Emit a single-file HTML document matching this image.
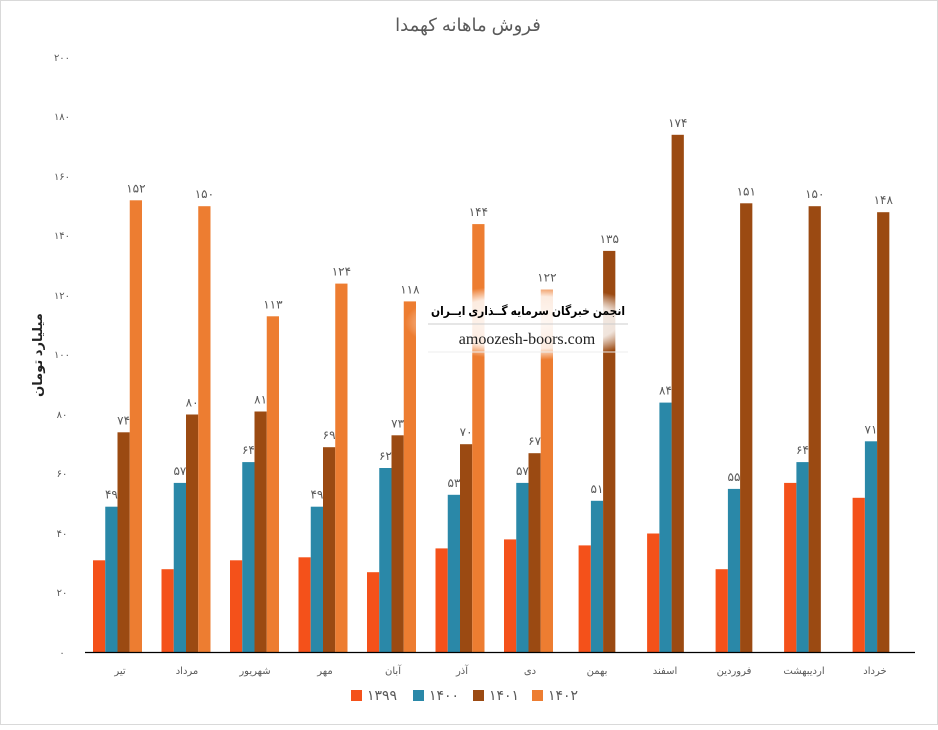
<!DOCTYPE html>
<html><head><meta charset="utf-8"><style>
body{margin:0;background:#fff;width:938px;height:725px;overflow:hidden}
svg text{font-family:"Liberation Sans","DejaVu Sans",sans-serif}
</style></head><body>
<svg width="938" height="725" viewBox="0 0 938 725" xmlns="http://www.w3.org/2000/svg">
<rect x="0" y="0" width="938" height="725" fill="#fff"/>
<rect x="0.5" y="0.5" width="937" height="724" fill="none" stroke="#d9d9d9"/>
<text x="468" y="31" text-anchor="middle" font-size="18" fill="#595959">فروش ماهانه کهمدا</text>
<g font-size="10" fill="#595959" text-anchor="middle">
<text x="62" y="656">۰</text><text x="62" y="596">۲۰</text><text x="62" y="537">۴۰</text><text x="62" y="477">۶۰</text><text x="62" y="418">۸۰</text><text x="62" y="358">۱۰۰</text><text x="62" y="299">۱۲۰</text><text x="62" y="239">۱۴۰</text><text x="62" y="180">۱۶۰</text><text x="62" y="120">۱۸۰</text><text x="62" y="61">۲۰۰</text>
</g>
<text transform="translate(42,355) rotate(-90)" text-anchor="middle" font-size="13" font-weight="bold" fill="#222">میلیارد تومان</text>
<g transform="translate(0,652.5) scale(1,-1)">
<g fill="#f4511a">
<rect x="93" y="0" width="12.25" height="92.2"/><rect x="161.5" y="0" width="12.25" height="83.3"/><rect x="230" y="0" width="12.25" height="92.2"/><rect x="298.5" y="0" width="12.25" height="95.2"/><rect x="367" y="0" width="12.25" height="80.3"/><rect x="435.5" y="0" width="12.25" height="104.1"/><rect x="504" y="0" width="12.25" height="113.1"/><rect x="578.6" y="0" width="12.25" height="107.1"/><rect x="647.1" y="0" width="12.25" height="119"/><rect x="715.6" y="0" width="12.25" height="83.3"/><rect x="784.1" y="0" width="12.25" height="169.6"/><rect x="852.6" y="0" width="12.25" height="154.7"/>
</g>
<g fill="#2a88a8">
<rect x="105.25" y="0" width="12.25" height="145.8"/><rect x="173.75" y="0" width="12.25" height="169.6"/><rect x="242.25" y="0" width="12.25" height="190.4"/><rect x="310.75" y="0" width="12.25" height="145.8"/><rect x="379.25" y="0" width="12.25" height="184.5"/><rect x="447.75" y="0" width="12.25" height="157.7"/><rect x="516.25" y="0" width="12.25" height="169.6"/><rect x="590.9" y="0" width="12.25" height="151.7"/><rect x="659.4" y="0" width="12.25" height="249.9"/><rect x="727.9" y="0" width="12.25" height="163.6"/><rect x="796.4" y="0" width="12.25" height="190.4"/><rect x="864.9" y="0" width="12.25" height="211.2"/>
</g>
<g fill="#9b4a12">
<rect x="117.5" y="0" width="12.25" height="220.2"/><rect x="186" y="0" width="12.25" height="238"/><rect x="254.5" y="0" width="12.25" height="241"/><rect x="323" y="0" width="12.25" height="205.3"/><rect x="391.5" y="0" width="12.25" height="217.2"/><rect x="460" y="0" width="12.25" height="208.3"/><rect x="528.5" y="0" width="12.25" height="199.3"/><rect x="603.1" y="0" width="12.25" height="401.6"/><rect x="671.6" y="0" width="12.25" height="517.7"/><rect x="740.1" y="0" width="12.25" height="449.2"/><rect x="808.6" y="0" width="12.25" height="446.3"/><rect x="877.1" y="0" width="12.25" height="440.3"/>
</g>
<g fill="#ed7d31">
<rect x="129.75" y="0" width="12.25" height="452.2"/><rect x="198.25" y="0" width="12.25" height="446.3"/><rect x="266.75" y="0" width="12.25" height="336.2"/><rect x="335.25" y="0" width="12.25" height="368.9"/><rect x="403.75" y="0" width="12.25" height="351.1"/><rect x="472.25" y="0" width="12.25" height="428.4"/><rect x="540.75" y="0" width="12.25" height="363"/>
</g>
</g>
<line x1="85" y1="652.5" x2="915" y2="652.5" stroke="#000" stroke-width="1.3"/>
<g font-size="12" fill="#595959" text-anchor="middle">
<text x="111.4" y="498.7">۴۹</text><text x="179.9" y="474.9">۵۷</text><text x="248.4" y="454.1">۶۴</text><text x="316.9" y="498.7">۴۹</text><text x="385.4" y="460">۶۲</text><text x="453.9" y="486.8">۵۳</text><text x="522.4" y="474.9">۵۷</text><text x="597" y="492.8">۵۱</text><text x="665.5" y="394.6">۸۴</text><text x="734" y="480.9">۵۵</text><text x="802.5" y="454.1">۶۴</text><text x="871" y="433.3">۷۱</text>
<text x="123.6" y="424.3">۷۴</text><text x="192.1" y="406.5">۸۰</text><text x="260.6" y="403.5">۸۱</text><text x="329.1" y="439.2">۶۹</text><text x="397.6" y="427.3">۷۳</text><text x="466.1" y="436.2">۷۰</text><text x="534.6" y="445.2">۶۷</text><text x="609.25" y="242.9">۱۳۵</text><text x="677.75" y="126.8">۱۷۴</text><text x="746.25" y="195.3">۱۵۱</text><text x="814.75" y="198.2">۱۵۰</text><text x="883.25" y="204.2">۱۴۸</text>
<text x="135.9" y="192.3">۱۵۲</text><text x="204.4" y="198.2">۱۵۰</text><text x="272.9" y="308.3">۱۱۳</text><text x="341.4" y="275.6">۱۲۴</text><text x="409.9" y="293.4">۱۱۸</text><text x="478.4" y="216.1">۱۴۴</text><text x="546.9" y="281.5">۱۲۲</text>
</g>
<g font-size="10" fill="#595959" text-anchor="middle">
<text x="120" y="674">تیر</text><text x="187" y="674">مرداد</text><text x="255" y="674">شهریور</text><text x="325" y="674">مهر</text><text x="393" y="674">آبان</text><text x="462" y="674">آذر</text><text x="530" y="674">دی</text><text x="597" y="674">بهمن</text><text x="665" y="674">اسفند</text><text x="734" y="674">فروردین</text><text x="804" y="674">اردیبهشت</text><text x="875" y="674">خرداد</text>
</g>
<defs><radialGradient id="wm" cx="0.5" cy="0.5" r="0.5"><stop offset="0" stop-color="#fff" stop-opacity="0.95"/><stop offset="0.7" stop-color="#fff" stop-opacity="0.85"/><stop offset="1" stop-color="#fff" stop-opacity="0"/></radialGradient></defs>
<rect x="405" y="285" width="250" height="75" fill="url(#wm)"/>
<text x="528" y="315" text-anchor="middle" font-size="12" font-weight="bold" fill="#000" textLength="194" lengthAdjust="spacingAndGlyphs" font-family="'DejaVu Sans',sans-serif">انجمن خبرگان سرمایه گــذاری ایــران</text>
<line x1="428" y1="324" x2="628" y2="324" stroke="#ccc"/>
<text x="527" y="344" text-anchor="middle" font-size="16" fill="#222" style="font-family:'Liberation Serif',serif">amoozesh-boors.com</text>
<line x1="428" y1="352" x2="628" y2="352" stroke="#eee"/>
<g font-size="14" fill="#595959">
<rect x="351" y="690" width="11" height="11" fill="#f4511a"/><text x="367" y="700">۱۳۹۹</text>
<rect x="413" y="690" width="11" height="11" fill="#2a88a8"/><text x="429" y="700">۱۴۰۰</text>
<rect x="473" y="690" width="11" height="11" fill="#9b4a12"/><text x="489" y="700">۱۴۰۱</text>
<rect x="532" y="690" width="11" height="11" fill="#ed7d31"/><text x="548" y="700">۱۴۰۲</text>
</g>
</svg>
</body></html>
